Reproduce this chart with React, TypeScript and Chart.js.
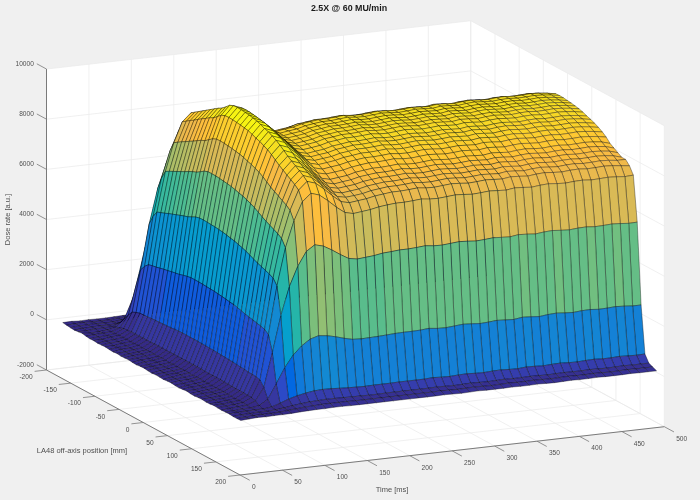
import React, { useEffect, useRef } from "react";
import { Chart, registerables } from "chart.js";

Chart.register(...registerables);

const titleText = "2.5X @ 60 MU/min";
const timeLabel = "Time [ms]";
const positionLabel = "LA48 off-axis position [mm]";
const doseLabel = "Dose rate [a.u.]";

const timeTicks = [0, 50, 100, 150, 200, 250, 300, 350, 400, 450, 500];
const positionTicks = [-200, -150, -100, -50, 0, 50, 100, 150, 200];
const doseTicks = [-2000, 0, 2000, 4000, 6000, 8000, 10000];
const colorTopTens = 975;

const timesMs = [10,20,30,40,50,60,70,80,90,100,110,120,130,140,150,160,170,180,190,200,210,220,230,240,250,260,270,280,290,300,310,320,330,340,350,360,370,380,390,400,410,420,430,440,450,460,470,480,490,500];
const positionsMm = [-184,-176,-168,-160,-152,-144,-136,-128,-120,-112,-104,-96,-88,-80,-72,-64,-56,-48,-40,-32,-24,-16,-8,0,8,16,24,32,40,48,56,64,72,80,88,96,104,112,120,128,136,144,152,160,168,176,184];

// Dose rate in tens of a.u.; one row per position, one column per time.
const doseTens = [
[2,3,1,2,1,1,2,3,4,5,5,6,5,5,5,5,5,5,5,5,5,5,5,5,5,6,5,5,5,6,5,5,5,5,6,5,5,5,5,6,5,5,5,5,6,5,5,5,5,5],
[0,2,3,1,1,2,4,6,8,10,11,11,11,10,10,10,10,10,10,10,10,10,10,10,10,11,10,10,10,9,10,11,10,10,10,10,11,10,10,9,10,10,11,10,10,10,10,9,10,9],
[-2,1,2,3,1,2,6,11,15,17,19,20,19,19,18,18,17,17,18,18,18,18,18,18,19,18,18,17,18,19,18,18,18,17,18,19,18,18,18,18,19,18,17,18,18,18,19,18,18,17],
[-3,0,1,3,1,4,11,19,25,29,32,33,32,31,30,29,29,29,29,30,30,30,30,30,31,30,29,30,31,30,30,29,30,31,30,30,32,30,29,30,31,30,30,29,31,30,30,30,29,28],
[-1,-1,2,2,4,17,50,86,113,133,146,152,150,145,139,134,133,134,134,136,137,138,138,140,142,139,138,141,143,140,138,140,142,141,139,143,141,139,142,144,141,139,142,143,140,141,143,141,139,136],
[1,-2,0,3,10,40,119,205,271,317,350,363,358,346,333,322,318,320,322,325,327,328,328,330,333,329,327,331,334,332,328,331,334,332,330,335,333,330,334,336,333,331,334,335,332,333,335,333,330,325],
[-2,0,2,4,16,63,189,326,431,505,557,578,570,551,530,513,507,510,513,518,521,523,523,525,528,524,523,526,529,527,524,526,529,527,525,530,528,525,529,531,528,526,529,530,527,528,530,528,524,518],
[-4,-1,1,5,21,83,248,427,564,661,730,758,747,723,695,671,664,668,671,678,682,685,685,687,690,686,685,688,691,689,686,688,691,689,687,692,690,687,691,693,690,688,691,692,689,690,692,690,686,680],
[-3,-2,3,6,22,90,270,465,614,719,794,824,812,786,750,722,715,719,722,730,734,738,738,740,743,739,738,741,744,742,739,741,744,742,740,745,743,740,744,746,743,741,744,745,742,743,745,743,739,733],
[-5,-1,2,6,24,95,285,491,649,760,840,871,859,832,768,739,731,735,739,748,752,756,756,758,761,757,756,759,762,760,757,759,762,760,758,763,761,758,762,764,761,759,762,763,760,761,763,761,757,751],
[-4,0,1,7,24,96,289,497,658,770,850,882,870,842,780,751,743,747,751,760,764,768,768,770,773,769,768,771,774,772,769,771,774,772,770,775,773,770,774,776,773,771,774,775,772,773,775,773,769,763],
[-3,-2,3,6,24,97,292,503,666,780,861,893,881,853,790,761,753,757,761,770,774,778,778,780,783,779,778,781,784,782,779,781,784,782,780,785,783,780,784,786,783,781,784,785,782,783,785,783,779,773],
[-5,-1,2,7,25,99,296,510,674,789,871,904,892,863,802,773,765,769,773,782,786,790,790,792,795,791,790,793,796,794,791,793,796,794,792,797,795,792,796,798,795,793,796,797,794,795,797,795,791,785],
[-6,0,1,8,25,100,300,516,682,799,882,915,903,874,814,785,777,781,785,794,798,802,802,804,807,803,802,805,808,806,803,805,808,806,804,809,807,804,808,810,807,805,808,809,806,807,809,807,803,797],
[-4,-2,3,7,25,101,303,522,690,808,893,926,914,884,826,797,789,793,797,805,810,814,814,816,819,815,814,817,820,818,815,817,820,818,816,821,819,816,820,822,819,817,820,821,818,819,821,819,815,809],
[-6,-1,2,6,26,102,307,528,699,818,903,937,924,895,841,811,802,806,811,819,823,828,828,830,833,829,828,831,834,832,829,831,834,832,830,835,833,830,834,836,833,831,834,835,832,833,835,833,829,823],
[-5,0,2,8,26,103,310,534,707,828,914,948,935,905,855,825,817,821,825,834,838,842,842,844,847,843,842,845,848,846,843,845,848,846,844,849,847,844,848,850,847,845,848,849,846,847,849,847,843,837],
[-4,-2,3,7,26,104,313,539,713,835,922,957,944,914,871,841,833,837,841,850,854,858,858,860,863,859,858,861,864,862,859,861,864,862,860,865,863,860,864,866,863,861,864,865,862,863,865,863,859,853],
[-6,-1,1,6,26,106,318,547,723,847,935,970,957,926,887,856,847,852,856,865,869,874,874,876,879,875,874,877,880,878,875,877,880,878,876,881,879,876,880,882,879,877,880,881,878,879,881,879,875,869],
[-7,0,2,8,27,107,322,555,734,859,949,985,971,940,902,871,862,866,871,880,884,889,889,891,894,890,889,892,895,893,890,892,895,893,891,896,894,891,895,897,894,892,895,896,893,894,896,894,890,884],
[-5,-2,3,7,27,108,325,559,740,866,956,992,979,947,911,879,870,875,879,888,893,897,897,900,903,899,898,901,904,902,899,901,904,902,900,905,903,900,904,906,903,901,904,905,902,903,905,903,899,893],
[-4,-1,2,6,27,108,325,560,740,867,957,993,980,948,912,880,871,876,880,889,894,898,898,901,904,900,899,902,905,903,900,902,905,903,901,906,904,901,905,907,904,902,905,906,903,904,906,904,900,894],
[-6,0,1,8,27,108,325,559,740,866,956,992,979,947,911,879,870,875,879,888,893,897,897,900,903,899,898,901,904,902,899,901,904,902,900,905,903,900,904,906,903,901,904,905,902,903,905,903,899,893],
[-7,-2,3,7,27,108,324,558,738,864,954,990,977,945,909,878,869,873,878,887,891,896,896,898,901,897,896,899,902,900,897,899,902,900,898,903,901,898,902,904,901,899,902,903,900,901,903,901,897,891],
[-5,-1,2,6,27,108,323,557,736,862,952,988,974,943,907,876,867,871,876,885,889,894,894,896,899,895,894,897,900,898,895,897,900,898,896,901,899,896,900,902,899,897,900,901,898,899,901,899,895,889],
[-6,0,1,8,27,107,322,555,734,859,949,985,971,940,904,873,864,868,873,882,886,891,891,893,896,892,891,894,897,895,892,894,897,895,893,898,896,893,897,899,896,894,897,898,895,896,898,896,892,886],
[-7,-2,3,7,27,107,321,553,731,856,946,981,968,937,901,870,861,865,870,879,883,888,888,890,893,889,888,891,894,892,889,891,894,892,890,895,893,890,894,896,893,891,894,895,892,893,895,893,889,883],
[-5,-1,2,6,27,106,319,550,727,852,940,976,962,931,896,865,856,860,865,874,878,883,883,885,888,884,883,886,889,887,884,886,889,887,885,890,888,885,889,891,888,886,889,890,887,888,890,888,884,878],
[-4,0,1,7,26,106,317,546,722,845,933,968,955,924,889,858,849,854,858,867,871,876,876,878,881,877,876,879,882,880,877,879,882,880,878,883,881,878,882,884,881,879,882,883,880,881,883,881,877,871],
[-6,-2,3,8,26,105,315,543,718,840,928,963,949,919,884,853,844,849,853,862,866,871,871,873,876,872,871,874,877,875,872,874,877,875,873,878,876,873,877,879,876,874,877,878,875,876,878,876,872,866],
[-7,-1,2,6,26,104,312,538,712,833,920,955,942,911,877,846,838,842,846,855,859,864,864,866,869,865,864,867,870,868,865,867,870,868,866,871,869,866,870,872,869,867,870,871,868,869,871,869,865,859],
[-5,0,1,7,26,103,310,533,705,826,912,946,933,903,869,839,830,834,839,847,851,856,856,858,861,857,856,859,862,860,857,859,862,860,858,863,861,858,862,864,861,859,862,863,860,861,863,861,857,851],
[-3,-2,3,7,26,102,306,527,697,816,901,935,922,893,859,829,820,825,829,837,842,846,846,848,851,847,846,849,852,850,847,849,852,850,848,853,851,848,852,854,851,849,852,853,850,851,853,851,847,841],
[-5,-1,2,6,25,101,302,520,687,804,888,922,909,880,846,817,809,813,817,825,830,834,834,836,839,835,834,837,840,838,835,837,840,838,836,841,839,836,840,842,839,837,840,841,838,839,841,839,835,829],
[-6,0,1,7,25,99,297,512,677,792,875,908,895,866,833,804,796,800,804,813,817,821,821,823,826,822,821,824,827,825,822,824,827,825,823,828,826,823,827,829,826,824,827,828,825,826,828,826,822,812],
[-4,-2,3,7,24,98,293,505,668,782,864,897,884,856,823,795,786,791,795,803,807,811,811,813,816,812,811,814,817,815,812,814,817,815,813,818,816,813,817,819,816,814,817,818,815,816,818,816,812,802],
[-3,-1,2,6,24,97,290,499,660,773,853,886,873,845,813,785,777,781,785,793,797,801,801,803,806,802,801,804,807,805,802,804,807,805,803,808,806,803,807,809,806,804,807,808,805,806,808,806,802,792],
[-5,0,1,6,24,95,286,493,652,763,843,875,863,835,803,775,767,771,775,783,787,791,791,793,796,792,791,794,797,795,792,794,797,795,793,798,796,793,797,799,796,794,797,798,795,796,798,796,792,782],
[-4,-2,2,5,24,94,283,487,644,754,832,864,852,824,793,765,758,761,765,773,777,781,781,783,786,782,781,784,787,785,782,784,787,785,783,788,786,783,787,789,786,784,787,788,785,786,788,786,782,782],
[-2,-1,3,6,23,93,278,479,633,741,818,849,838,811,780,753,745,749,753,760,764,768,768,770,773,769,768,771,774,772,769,771,774,772,770,775,773,770,774,776,773,771,774,775,772,773,775,773,769,765],
[-3,0,2,6,22,88,265,456,604,707,780,810,799,773,743,718,710,714,718,725,729,732,732,734,737,733,732,735,738,736,733,735,738,736,734,739,737,734,738,740,737,735,738,739,736,737,739,737,734,736],
[-4,-1,2,4,17,67,201,345,457,535,590,613,604,585,563,543,537,540,543,549,551,554,554,556,559,555,554,557,560,558,555,557,560,558,556,561,559,556,560,562,559,557,560,561,558,559,561,559,556,557],
[-3,-2,1,2,7,28,85,146,193,226,249,259,255,247,237,229,227,228,229,231,233,234,234,235,238,234,233,236,239,237,234,236,239,237,235,240,238,235,239,241,238,236,239,240,237,238,240,238,235,235],
[-2,0,1,2,2,6,17,30,39,46,51,53,52,50,48,47,46,47,47,47,48,48,48,48,50,48,47,49,50,48,47,49,50,48,47,50,49,47,49,50,48,47,49,50,48,48,50,48,47,48],
[-4,-1,0,1,1,3,7,12,16,19,21,22,22,21,20,20,19,19,20,20,20,20,20,20,21,20,19,20,21,20,19,20,21,20,20,21,20,19,20,21,20,20,21,20,19,20,21,20,20,20],
[-4,-2,0,1,1,2,5,8,11,12,14,14,14,14,13,13,13,13,13,13,13,13,13,13,14,13,12,13,14,13,12,13,14,13,13,14,13,12,13,14,13,13,14,13,12,13,14,13,13,13],
[-3,-1,1,0,1,1,2,4,5,6,6,7,7,6,6,6,6,6,6,6,6,6,6,6,7,6,5,6,7,6,6,6,7,6,6,7,6,5,6,7,6,6,7,6,6,6,7,6,6,6],
];

const parula = [
[.2081,.1663,.5292],[.2116,.1898,.5777],[.2123,.2138,.627],[.2081,.2386,.6771],[.1959,.2645,.7279],[.1707,.2919,.7792],[.1253,.3242,.8303],[.0591,.3598,.8683],
[.0117,.3875,.882],[.006,.4086,.8828],[.0165,.4266,.8786],[.0329,.443,.872],[.0498,.4586,.8641],[.0629,.4737,.8554],[.0723,.4887,.8467],[.0779,.504,.8384],
[.0793,.52,.8312],[.0749,.5375,.8263],[.0641,.557,.824],[.0488,.5772,.8228],[.0343,.5966,.8199],[.0265,.6137,.8135],[.0239,.6287,.8038],[.0231,.6418,.7913],
[.0228,.6535,.7768],[.0267,.6642,.7607],[.0384,.6743,.7436],[.059,.6838,.7254],[.0843,.6928,.7062],[.1133,.7015,.6859],[.1453,.7098,.6646],[.1801,.7177,.6424],
[.2178,.725,.6193],[.2586,.7317,.5954],[.3022,.7376,.5712],[.3482,.7424,.5473],[.3953,.7459,.5244],[.442,.7481,.5033],[.4871,.7491,.484],[.53,.7491,.4661],
[.5709,.7485,.4494],[.6099,.7473,.4337],[.6473,.7456,.4188],[.6834,.7435,.4044],[.7184,.7411,.3905],[.7525,.7384,.3768],[.7858,.7356,.3633],[.8185,.7327,.3498],
[.8507,.7299,.336],[.8824,.7274,.3217],[.9139,.7258,.3063],[.945,.7261,.2886],[.9739,.7314,.2666],[.9938,.7455,.2403],[.999,.7653,.2164],[.9955,.7861,.1967],
[.988,.8066,.1794],[.9789,.8271,.1633],[.9697,.8481,.1475],[.9626,.8705,.1309],[.9589,.8949,.1132],[.9598,.9218,.0948],[.9661,.9514,.0755],[.9763,.9831,.0538],
];

// Orthographic view of the 3-D box on the chart's plane.
const view = { ox: 46.5, oy: 370, tx: 0.8486, ty: -0.0966, px: 0.4838, py: 0.2625, zy: 0.02508 };
const project = (t: number, p: number, z: number) => ({
  x: view.ox + t * view.tx + (p + 200) * view.px,
  y: view.oy + t * view.ty + (p + 200) * view.py - (z + 2000) * view.zy,
});

const faceColor = (v: number, lo: number, hi: number) => {
  const i = Math.min(63, Math.max(0, Math.floor(((v - lo) / (hi - lo)) * 64)));
  const c = parula[i];
  return `rgb(${Math.round(c[0] * 255)},${Math.round(c[1] * 255)},${Math.round(c[2] * 255)})`;
};

const polygon = (pts: { x: number; y: number }[], fillColor: string) => ({
  data: [...pts, pts[0]],
  showLine: true,
  pointRadius: 0,
  borderWidth: 0,
  borderColor: "rgba(0,0,0,0)",
  backgroundColor: fillColor,
  fill: "shape",
  tension: 0,
});
const segment = (a: { x: number; y: number }, b: { x: number; y: number }, color: string, width: number) => ({
  data: [a, b],
  showLine: true,
  pointRadius: 0,
  borderWidth: width,
  borderColor: color,
  fill: false,
  tension: 0,
});

const WHITE = "#ffffff";
const GRID = "#e9e9e9";
const AXIS = "#7a7a7a";
const INK = "#4f4f4f";

function buildDatasets() {
  const ds: any[] = [];
  const zLo = doseTicks[0];
  const zHi = doseTicks[doseTicks.length - 1];
  ds.push(polygon([project(0, -200, zLo), project(500, -200, zLo), project(500, -200, zHi), project(0, -200, zHi)], WHITE));
  ds.push(polygon([project(500, -200, zLo), project(500, 200, zLo), project(500, 200, zHi), project(500, -200, zHi)], WHITE));
  ds.push(polygon([project(0, -200, zLo), project(0, 200, zLo), project(500, 200, zLo), project(500, -200, zLo)], WHITE));
  for (const t of timeTicks) {
    ds.push(segment(project(t, 200, zLo), project(t, -200, zLo), GRID, 0.7));
    ds.push(segment(project(t, -200, zLo), project(t, -200, zHi), GRID, 0.7));
  }
  for (const p of positionTicks) {
    ds.push(segment(project(0, p, zLo), project(500, p, zLo), GRID, 0.7));
    ds.push(segment(project(500, p, zLo), project(500, p, zHi), GRID, 0.7));
  }
  for (const z of doseTicks) {
    ds.push(segment(project(0, -200, z), project(500, -200, z), GRID, 0.7));
    ds.push(segment(project(500, -200, z), project(500, 200, z), GRID, 0.7));
  }
  ds.push(segment(project(0, -200, zLo), project(0, -200, zHi), AXIS, 1));
  ds.push(segment(project(0, -200, zLo), project(0, 200, zLo), AXIS, 1));
  ds.push(segment(project(0, 200, zLo), project(500, 200, zLo), AXIS, 1));
  for (const z of doseTicks) ds.push(segment(project(0, -200, z), project(0, -220, z), AXIS, 0.8));
  for (const p of positionTicks) ds.push(segment(project(0, p, zLo), project(-14, p, zLo), AXIS, 0.8));
  for (const t of timeTicks) ds.push(segment(project(t, 200, zLo), project(t, 220, zLo), AXIS, 0.8));

  const lo = Math.min(...doseTens.flat());
  // Far to near: the order that hides a height field correctly from this view.
  for (let j = timesMs.length - 2; j >= 0; j--) {
    for (let i = 0; i < positionsMm.length - 1; i++) {
      const v = (a: number, b: number) => project(timesMs[b], positionsMm[a], doseTens[a][b] * 10);
      ds.push({
        data: [v(i, j), v(i + 1, j), v(i + 1, j + 1), v(i, j + 1), v(i, j)],
        showLine: true,
        pointRadius: 0,
        borderWidth: 0.6,
        borderColor: "rgba(0,0,0,0.58)",
        backgroundColor: faceColor(doseTens[i][j], lo, colorTopTens),
        fill: "shape",
        tension: 0,
        borderJoinStyle: "bevel",
      });
    }
  }
  // Chart.js paints the last dataset first, so the nearest goes first in the list.
  return ds.reverse();
}

const textPlugin = {
  id: "boxText",
  afterDraw(chart: any) {
    const { ctx, scales } = chart;
    const put = (s: string, x: number, y: number, align: CanvasTextAlign, font: string, color: string, rot = 0) => {
      ctx.save();
      ctx.translate(scales.x.getPixelForValue(x), scales.y.getPixelForValue(y));
      if (rot) ctx.rotate(rot);
      ctx.textAlign = align;
      ctx.textBaseline = "middle";
      ctx.font = font;
      ctx.fillStyle = color;
      ctx.fillText(s, 0, 0);
      ctx.restore();
    };
    const f = '6.6px "Liberation Sans", Arial, sans-serif';
    const lf = '7.5px "Liberation Sans", Arial, sans-serif';
    for (const z of doseTicks) {
      const e = project(0, -220, z);
      put(String(z), e.x - 3, e.y, "right", f, INK);
    }
    for (const p of positionTicks) {
      const e = project(-14, p, -2000);
      put(String(p), e.x - 2, e.y + 6, "right", f, INK);
    }
    for (const t of timeTicks) {
      const e = project(t, 220, -2000);
      put(String(t), e.x + 2.2, e.y + 7, "left", f, INK);
    }
    put(titleText, 349, 9, "center", 'bold 8.9px "Liberation Sans", Arial, sans-serif', "#1a1a1a");
    put(positionLabel, 82, 450.5, "center", lf, INK);
    put(timeLabel, 392, 490, "center", lf, INK);
    put(doseLabel, 8, 219.5, "center", lf, INK, -Math.PI / 2);
  },
};

export default function App() {
  const ref = useRef<HTMLCanvasElement>(null);
  useEffect(() => {
    document.body.style.margin = "0";
    const chart = new Chart(ref.current as HTMLCanvasElement, {
      type: "scatter",
      data: { datasets: buildDatasets() },
      options: {
        responsive: false,
        animation: false,
        events: [],
        layout: { padding: 0 },
        scales: {
          x: { type: "linear", min: 0, max: 700, display: false },
          y: { type: "linear", min: 0, max: 500, reverse: true, display: false },
        },
        plugins: {
          legend: { display: false },
          tooltip: { enabled: false },
          filler: { drawTime: "beforeDatasetDraw", propagate: false },
        },
      } as any,
      plugins: [textPlugin],
    });
    return () => chart.destroy();
  }, []);
  return <canvas ref={ref} width={700} height={500} style={{ display: "block", background: "#f0f0f0" }} />;
}
